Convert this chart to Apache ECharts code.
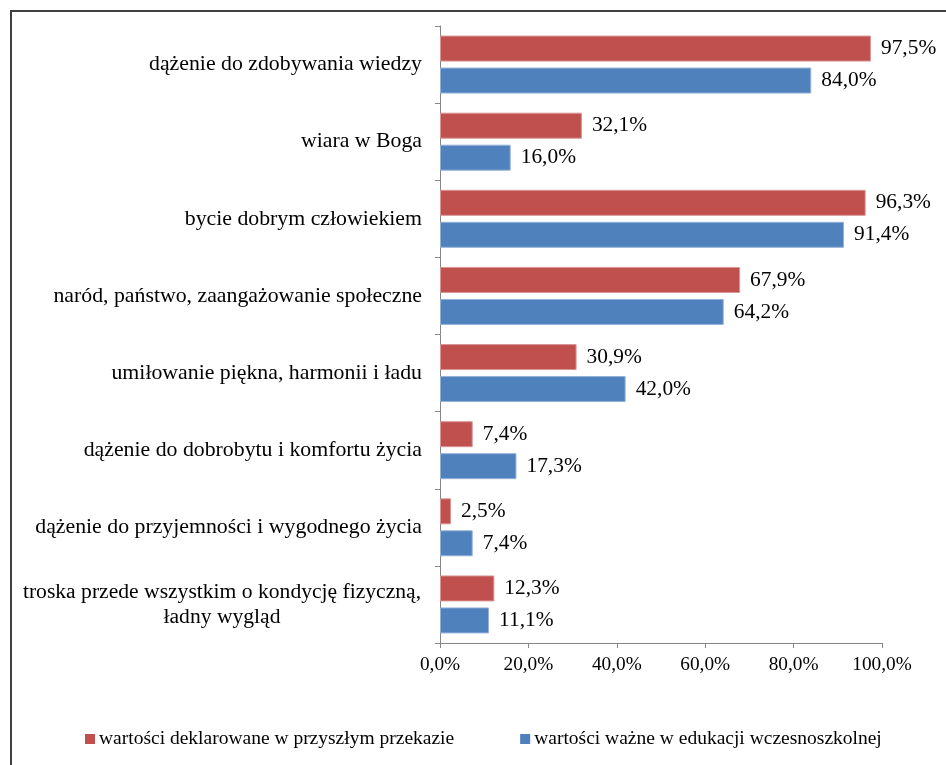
<!DOCTYPE html>
<html>
<head>
<meta charset="utf-8">
<script src="https://cdn.jsdelivr.net/npm/echarts@6/dist/echarts.min.js"></script>
<style>
  html, body { margin: 0; padding: 0; background: #fff; }
  #frame {
    position: absolute; left: 10px; top: 10px; width: 960px; height: 780px;
    border: 2px solid #404040; box-sizing: border-box;
  }
  #chart { position: absolute; left: 0; top: 0; width: 946px; height: 765px; }
</style>
</head>
<body>
<div id="frame"></div>
<div id="chart"></div>
<script>
  // kategorie (od góry)
  const categories = [
    'dążenie do zdobywania wiedzy',
    'wiara w Boga',
    'bycie dobrym człowiekiem',
    'naród, państwo, zaangażowanie społeczne',
    'umiłowanie piękna, harmonii i ładu',
    'dążenie do dobrobytu i komfortu życia',
    'dążenie do przyjemności i wygodnego życia',
    'troska przede wszystkim o kondycję fizyczną,\nładny wygląd'
  ];
  const seriesNames = [
    'wartości deklarowane w przyszłym przekazie',
    'wartości ważne w edukacji wczesnoszkolnej'
  ];
  const declared = [97.5, 32.1, 96.3, 67.9, 30.9, 7.4, 2.5, 12.3];
  const important = [84.0, 16.0, 91.4, 64.2, 42.0, 17.3, 7.4, 11.1];
  const xTicks = [0, 20, 40, 60, 80, 100];

  const pct = v => v.toFixed(1).replace('.', ',') + '%';
  const font = '"Liberation Serif", "Times New Roman", serif';

  const chart = echarts.init(document.getElementById('chart'));
  const option = {
    animation: false,
    textStyle: { fontFamily: font, color: '#000' },
    grid: { left: 440, top: 26, right: 64, height: 617, containLabel: false },
    legend: {
      left: 80, top: 724,
      itemWidth: 10, itemHeight: 10, itemGap: 66,
      icon: 'rect',
      itemStyle: { borderWidth: 0 },
      textStyle: { fontFamily: font, fontSize: 19.5, color: '#000', padding: [0, 0, 0, -1] },
      data: seriesNames
    },
    xAxis: {
      type: 'value', min: xTicks[0], max: xTicks[xTicks.length - 1], interval: 20,
      axisLine: { show: true, lineStyle: { color: '#868686' } },
      axisTick: { show: true, length: 5, lineStyle: { color: '#868686' } },
      splitLine: { show: false },
      axisLabel: { fontFamily: font, fontSize: 19.3, color: '#000', margin: 12, formatter: v => pct(v) }
    },
    yAxis: {
      type: 'category', inverse: true, data: categories,
      axisLine: { show: true, lineStyle: { color: '#868686' } },
      axisTick: { show: true, length: 5, lineStyle: { color: '#868686' } },
      axisLabel: {
        fontFamily: font, fontSize: 21.8, color: '#000', margin: 18, lineHeight: 25,
        formatter: v => v.indexOf('\n') >= 0
          ? v.split('\n').map(s => '{c|' + s + '}').join('\n')
          : v,
        rich: { c: { fontFamily: font, fontSize: 21.6, color: '#000', width: 400, align: 'center', lineHeight: 25 } }
      }
    },
    series: [
      {
        name: seriesNames[0], type: 'bar', data: declared,
        barWidth: 26, barGap: '23%',
        itemStyle: { color: '#C0504D', borderColor: '#D99694', borderWidth: 1 },
        label: { show: true, position: 'right', distance: 10, fontFamily: font, fontSize: 21.4, color: '#000', formatter: p => pct(p.value) }
      },
      {
        name: seriesNames[1], type: 'bar', data: important,
        barWidth: 26, barGap: '23%',
        itemStyle: { color: '#4F81BD', borderColor: '#95B3D7', borderWidth: 1 },
        label: { show: true, position: 'right', distance: 10, fontFamily: font, fontSize: 21.4, color: '#000', formatter: p => pct(p.value) }
      }
    ]
  };
  chart.setOption(option);
</script>
</body>
</html>
